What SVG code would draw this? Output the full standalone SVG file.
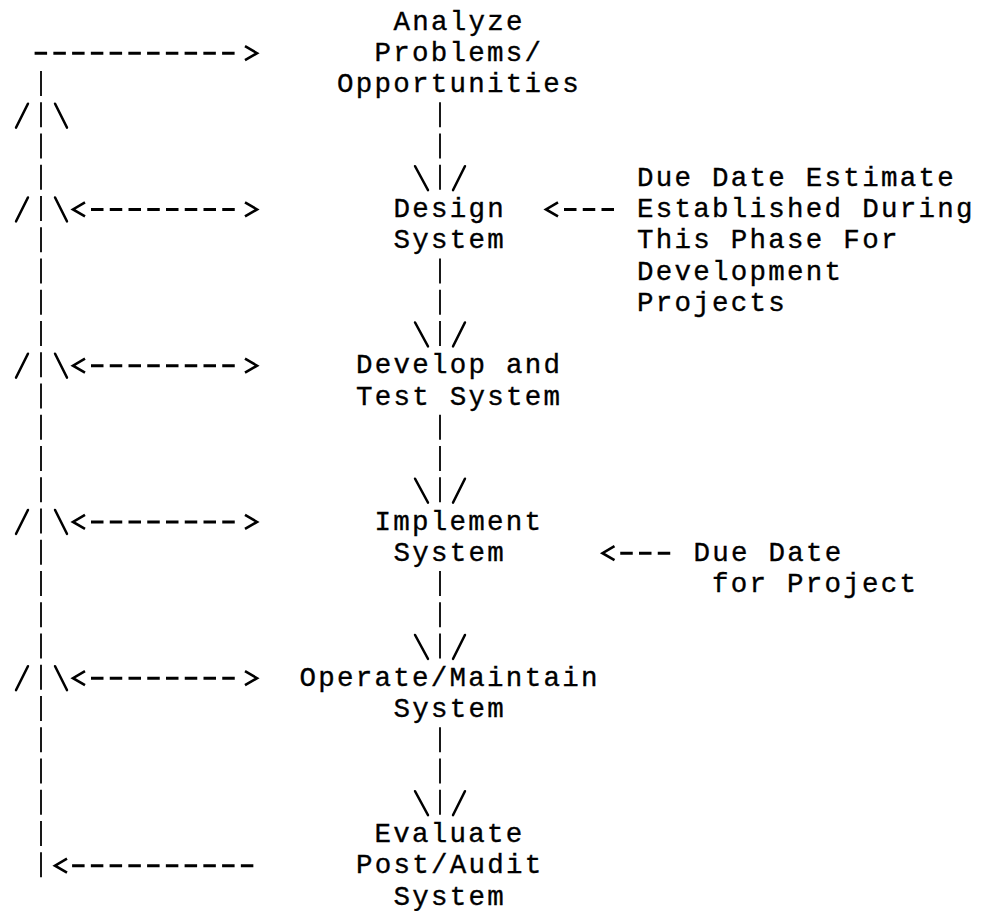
<svg xmlns="http://www.w3.org/2000/svg" width="986" height="911" viewBox="0 0 986 911">
  <style>
    .t { font-family: "Liberation Mono", "DejaVu Sans Mono", monospace; font-size: 27.5px; letter-spacing: 2.25px; fill: #000; stroke: #000; stroke-width: 0.35px; }
    .vbar { fill: none; stroke: #000; stroke-width: 1.8; stroke-dasharray: 25 6.25; }
    .dash { fill: none; stroke: #000; stroke-width: 3; stroke-dasharray: 12.5 6.25; }
    .head { fill: none; stroke: #000; stroke-width: 2.6; stroke-linejoin: miter; }
    .slash { fill: none; stroke: #000; stroke-width: 2.4; stroke-linecap: round; }
  </style>
  <rect width="986" height="911" fill="#fff"/>

  <!-- connectors: typewriter-style dashed lines and arrowheads -->
  <g id="connectors">
    <!-- main flow, centre column -->
    <path class="vbar" d="M440 102.15V190"/>
    <path class="vbar" d="M440 258.4V346.4"/>
    <path class="vbar" d="M440 414.65V502.65"/>
    <path class="vbar" d="M440 570.9V658.9"/>
    <path class="vbar" d="M440 727.15V815.15"/>
    <g class="slash">
      <path d="M415 166.15L428 190.15M465 166.15L453 190.15"/>
      <path d="M415 322.4L428 346.4M465 322.4L453 346.4"/>
      <path d="M415 478.65L428 502.65M465 478.65L453 502.65"/>
      <path d="M415 634.9L428 658.9M465 634.9L453 658.9"/>
      <path d="M415 791.15L428 815.15M465 791.15L453 815.15"/>
    </g>

    <!-- feedback loop, left column -->
    <path class="vbar" d="M41 70.9V877.15"/>
    <g class="slash">
      <path d="M16 127.65L28 103.65M55 103.65L67 127.65"/>
      <path d="M16 221.4L28 197.4M55 197.4L67 221.4"/>
      <path d="M16 377.65L28 353.65M55 353.65L67 377.65"/>
      <path d="M16 533.9L28 509.9M55 509.9L67 533.9"/>
      <path d="M16 690.15L28 666.15M55 666.15L67 690.15"/>
    </g>

    <!-- top: loop back into analysis -->
    <path class="dash" d="M34.6 53.15H234.6"/>
    <polyline class="head" points="245,46.15 257,53.15 245,60.15"/>

    <!-- two-way links between loop and phases -->
    <g id="link-design">
      <polyline class="head" points="85,202.4 73,209.4 85,216.4"/>
      <path class="dash" d="M91 209.4H234.75"/>
      <polyline class="head" points="245,202.4 257,209.4 245,216.4"/>
    </g>
    <g id="link-develop">
      <polyline class="head" points="85,358.65 73,365.65 85,372.65"/>
      <path class="dash" d="M91 365.65H234.75"/>
      <polyline class="head" points="245,358.65 257,365.65 245,372.65"/>
    </g>
    <g id="link-implement">
      <polyline class="head" points="85,514.9 73,521.9 85,528.9"/>
      <path class="dash" d="M91 521.9H234.75"/>
      <polyline class="head" points="245,514.9 257,521.9 245,528.9"/>
    </g>
    <g id="link-operate">
      <polyline class="head" points="85,671.15 73,678.15 85,685.15"/>
      <path class="dash" d="M91 678.15H234.75"/>
      <polyline class="head" points="245,671.15 257,678.15 245,685.15"/>
    </g>

    <!-- bottom: evaluation feeds the loop -->
    <polyline class="head" points="67,858.65 55,865.65 67,872.65"/>
    <path class="dash" d="M72.1 865.65H253.35"/>

    <!-- notes pointing at phases -->
    <polyline class="head" points="558,202.4 546,209.4 558,216.4"/>
    <path class="dash" d="M564 209.4H614"/>
    <polyline class="head" points="614.5,546.15 602.5,553.15 614.5,560.15"/>
    <path class="dash" d="M620.25 553.15H670.25"/>
  </g>

  <!-- phases -->
  <g id="analyze">
    <text class="t" x="393.4" y="29.5">Analyze</text>
    <text class="t" x="374.6" y="60.75">Problems/</text>
    <text class="t" x="337.1" y="92">Opportunities</text>
  </g>
  <g id="design">
    <text class="t" x="393.4" y="217">Design</text>
    <text class="t" x="393.4" y="248.25">System</text>
  </g>
  <g id="develop">
    <text class="t" x="355.9" y="373.25">Develop and</text>
    <text class="t" x="355.9" y="404.5">Test System</text>
  </g>
  <g id="implement">
    <text class="t" x="374.6" y="529.5">Implement</text>
    <text class="t" x="393.4" y="560.75">System</text>
  </g>
  <g id="operate">
    <text class="t" x="299.6" y="685.75">Operate/Maintain</text>
    <text class="t" x="393.4" y="717">System</text>
  </g>
  <g id="evaluate">
    <text class="t" x="374.6" y="842">Evaluate</text>
    <text class="t" x="355.9" y="873.25">Post/Audit</text>
    <text class="t" x="393.4" y="904.5">System</text>
  </g>

  <!-- notes -->
  <g id="note-estimate">
    <text class="t" x="637.1" y="185.75">Due Date Estimate</text>
    <text class="t" x="637.1" y="217">Established During</text>
    <text class="t" x="637.1" y="248.25">This Phase For</text>
    <text class="t" x="637.1" y="279.5">Development</text>
    <text class="t" x="637.1" y="310.75">Projects</text>
  </g>
  <g id="note-due">
    <text class="t" x="693.4" y="560.75">Due Date</text>
    <text class="t" x="712.1" y="592">for Project</text>
  </g>
</svg>
